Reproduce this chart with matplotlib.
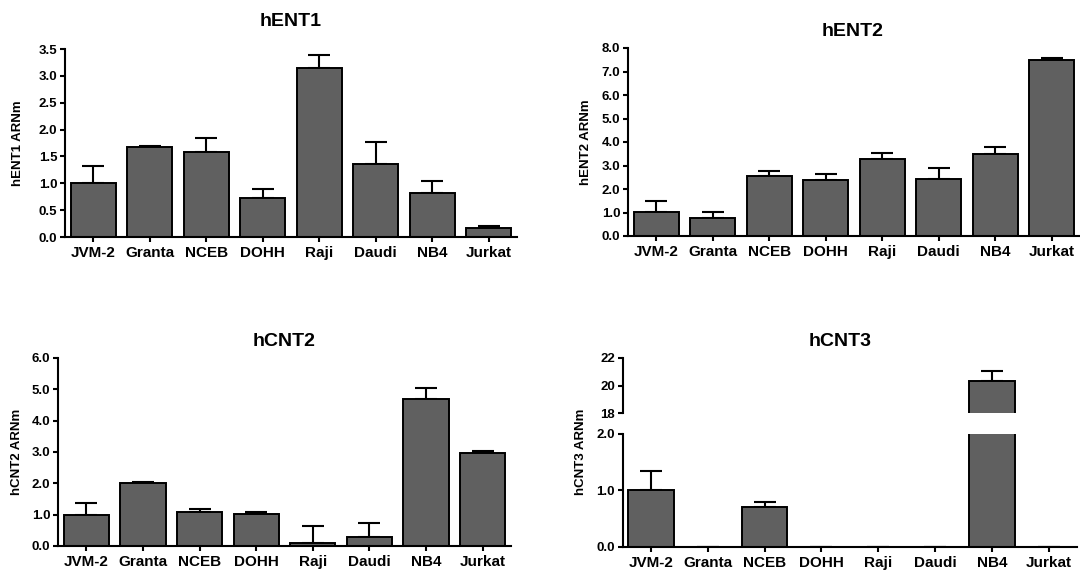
import matplotlib
matplotlib.use("Agg")
import matplotlib.pyplot as plt
from matplotlib.ticker import FormatStrFormatter
import numpy as np

plt.rcParams['font.family'] = ['Liberation Sans', 'DejaVu Sans']
plt.rcParams['font.weight'] = 'bold'

cells = ["JVM-2", "Granta", "NCEB", "DOHH", "Raji", "Daudi", "NB4", "Jurkat"]

hent1 = [1.00, 1.68, 1.59, 0.72, 3.14, 1.35, 0.81, 0.17]
hent1_top = [1.33, 1.70, 1.84, 0.89, 3.39, 1.77, 1.04, 0.21]

hent2 = [1.01, 0.76, 2.54, 2.37, 3.28, 2.41, 3.49, 7.50]
hent2_top = [1.49, 1.01, 2.77, 2.64, 3.55, 2.88, 3.80, 7.56]

hcnt2 = [1.00, 2.02, 1.09, 1.01, 0.09, 0.30, 4.69, 2.97]
hcnt2_top = [1.38, 2.05, 1.19, 1.09, 0.64, 0.74, 5.03, 3.03]

hcnt3 = [1.00, 0.0, 0.70, 0.0, 0.0, 0.0, 20.36, 0.0]
hcnt3_top = [1.34, 0.0, 0.80, 0.0, 0.0, 0.0, 21.09, 0.0]

W, H = 1080, 571
fig = plt.figure(figsize=(W / 100, H / 100), dpi=100)

BAR_COLOR = "#606060"
LW = 1.5


def box(l, r, t, b):
    return [l / W, 1 - b / H, (r - l) / W, (b - t) / H]


def style(ax, xticks=True):
    for s in ["top", "right"]:
        ax.spines[s].set_visible(False)
    ax.spines["left"].set_linewidth(LW)
    ax.spines["bottom"].set_linewidth(LW)
    ax.tick_params(axis="y", direction="out", length=3.5, width=LW, pad=2,
                   labelsize=9.5)
    ax.tick_params(axis="x", direction="out", length=3.5, width=LW, pad=3,
                   labelsize=11)
    ax.set_xlim(-0.5, 7.5)
    x = np.arange(len(cells))
    if xticks:
        ax.set_xticks(x)
        ax.set_xticklabels(cells, fontweight="bold")
    else:
        ax.set_xticks([])
    for lbl in ax.get_yticklabels():
        lbl.set_fontweight("bold")


def draw_bars(ax, vals, tops):
    x = np.arange(len(vals))
    vals = np.array(vals)
    up = np.array(tops) - vals
    ax.errorbar(x, vals, yerr=[np.zeros_like(vals), up], fmt="none",
                ecolor="black", elinewidth=LW, capsize=8, capthick=LW, zorder=1)
    ax.bar(x, vals, width=0.8, color=BAR_COLOR, edgecolor="black",
           linewidth=1.4, zorder=2)


def title(text, cx, cy):
    fig.text(cx / W, 1 - cy / H, text, ha="center", va="center",
             fontsize=14, fontweight="bold")


def ylab(text, cx, cy):
    fig.text(cx / W, 1 - cy / H, text, ha="center", va="center",
             rotation=90, fontsize=9.5, fontweight="bold")


# Panel 1: hENT1
ax1 = fig.add_axes(box(65, 517, 49, 237))
draw_bars(ax1, hent1, hent1_top)
ax1.set_ylim(0, 3.5)
ax1.set_yticks(np.arange(0, 3.51, 0.5))
ax1.yaxis.set_major_formatter(FormatStrFormatter("%.1f"))
style(ax1)
title("hENT1", 291, 21)
ylab("hENT1 ARNm", 18, 143)

# Panel 2: hENT2
ax2 = fig.add_axes(box(628, 1080, 48, 236))
draw_bars(ax2, hent2, hent2_top)
ax2.set_ylim(0, 8.0)
ax2.set_yticks(np.arange(0, 8.01, 1.0))
ax2.yaxis.set_major_formatter(FormatStrFormatter("%.1f"))
style(ax2)
title("hENT2", 853, 32)
ylab("hENT2 ARNm", 586, 142)

# Panel 3: hCNT2
ax3 = fig.add_axes(box(58, 511, 358, 546))
draw_bars(ax3, hcnt2, hcnt2_top)
ax3.set_ylim(0, 6.0)
ax3.set_yticks(np.arange(0, 6.01, 1.0))
ax3.yaxis.set_major_formatter(FormatStrFormatter("%.1f"))
style(ax3)
title("hCNT2", 284, 342)
ylab("hCNT2 ARNm", 17, 452)

# Panel 4: hCNT3 (broken axis)
ax4u = fig.add_axes(box(622.5, 1077, 358, 413.3))
ax4l = fig.add_axes(box(622.5, 1077, 433.7, 546.7))
draw_bars(ax4u, hcnt3, hcnt3_top)
draw_bars(ax4l, hcnt3, hcnt3_top)
ax4u.set_ylim(18, 22)
ax4u.set_yticks([18, 20, 22])
ax4l.set_ylim(0, 2.0)
ax4l.set_yticks([0.0, 1.0, 2.0])
ax4l.yaxis.set_major_formatter(FormatStrFormatter("%.1f"))
style(ax4u, xticks=False)
style(ax4l)
ax4u.spines["bottom"].set_visible(False)
title("hCNT3", 840, 342)
ylab("hCNT3 ARNm", 581, 452)

fig.savefig("out.png", dpi=100)
